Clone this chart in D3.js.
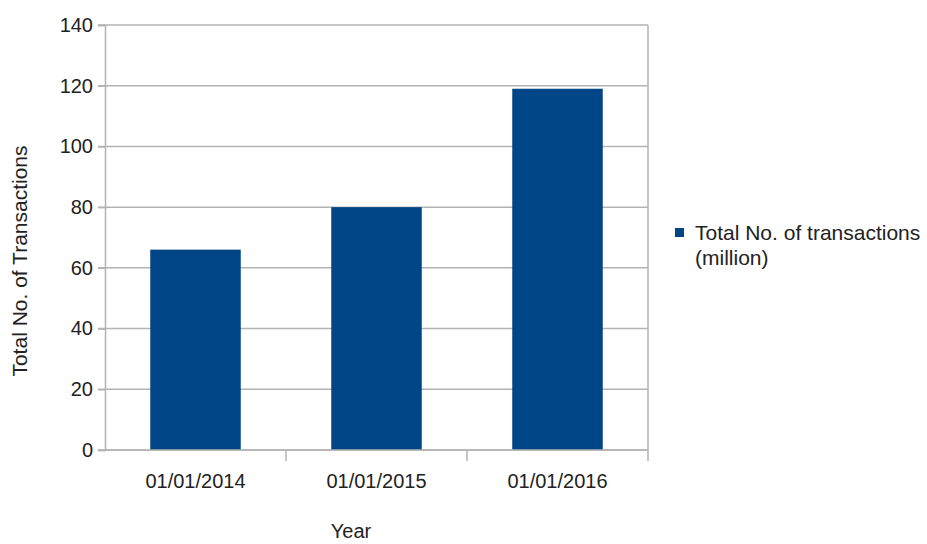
<!DOCTYPE html>
<html>
<head>
<meta charset="utf-8">
<script src="https://cdn.jsdelivr.net/npm/d3@7"></script>
<style>
  body { margin: 0; background: #fff; }
  text { font-family: "Liberation Sans", Arial, sans-serif; fill: #222; }
</style>
</head>
<body>
<div id="chart"></div>
<script>
// data
const categories = ['01/01/2014', '01/01/2015', '01/01/2016'];
const values = [66, 80, 119];
const yTicks = [0, 20, 40, 60, 80, 100, 120, 140];
const seriesName = ['Total No. of transactions', '(million)'];

let margin = { top: 25, left: 105, right: 279, bottom: 94 },
  width = 927 - margin.left - margin.right,
  height = 544 - margin.top - margin.bottom;

let svg = d3
  .select('#chart')
  .append('svg')
  .attr('width', 927)
  .attr('height', 544);

let g = svg.append('g').attr('transform', 'translate(' + margin.left + ',' + margin.top + ')');

let xScale = d3.scaleBand().domain(categories).range([0, width]).paddingInner(0.5).paddingOuter(0.25),
  yScale = d3.scaleLinear().domain([0, 140]).range([height, 0]);

let bandScale = d3.scaleBand().domain(categories).range([0, width]);

// gridlines
g.selectAll('.grid')
  .data(yTicks)
  .enter()
  .append('line')
  .attr('x1', -7)
  .attr('x2', width)
  .attr('y1', d => yScale(d))
  .attr('y2', d => yScale(d))
  .attr('stroke', '#b3b3b3')
  .attr('stroke-width', 1.5);

// plot frame right side
g.append('line')
  .attr('x1', width).attr('x2', width)
  .attr('y1', 0).attr('y2', height)
  .attr('stroke', '#b3b3b3').attr('stroke-width', 1.5);

// bars
g.selectAll('.bar')
  .data(values)
  .enter()
  .append('rect')
  .attr('class', 'bar')
  .attr('x', (d, i) => xScale(categories[i]))
  .attr('y', d => yScale(d))
  .attr('width', xScale.bandwidth())
  .attr('height', d => height - yScale(d))
  .attr('fill', '#004586');

// y axis
let yAxis = g.append('g')
  .call(d3.axisLeft(yScale).tickValues(yTicks).tickSize(7).tickPadding(5));
yAxis.select('.domain').attr('stroke', '#b3b3b3').attr('stroke-width', 1.5);
yAxis.selectAll('.tick line').attr('stroke', '#b3b3b3').attr('stroke-width', 1.5);
yAxis.selectAll('text').style('font-size', '20px').attr('fill', '#222');

// x axis: ticks at band boundaries
let xAxis = g.append('g').attr('transform', 'translate(0,' + height + ')');
xAxis.append('line')
  .attr('x1', 0).attr('x2', width)
  .attr('stroke', '#b3b3b3').attr('stroke-width', 1.5);
xAxis.selectAll('.xt')
  .data(categories)
  .enter()
  .append('line')
  .attr('x1', d => bandScale(d) + bandScale.bandwidth())
  .attr('x2', d => bandScale(d) + bandScale.bandwidth())
  .attr('y1', 0).attr('y2', 11)
  .attr('stroke', '#b3b3b3').attr('stroke-width', 1.5);
xAxis.selectAll('.xl')
  .data(categories)
  .enter()
  .append('text')
  .attr('x', d => xScale(d) + xScale.bandwidth() / 2)
  .attr('y', 38)
  .attr('text-anchor', 'middle')
  .style('font-size', '20px')
  .text(d => d);

// axis titles
svg.append('text')
  .attr('x', 351)
  .attr('y', 538)
  .attr('text-anchor', 'middle')
  .style('font-size', '20px')
  .text('Year');

svg.append('text')
  .attr('transform', 'translate(27,261) rotate(-90)')
  .attr('text-anchor', 'middle')
  .style('font-size', '21px')
  .text('Total No. of Transactions');

// legend
let legend = svg.append('g').attr('transform', 'translate(675,228)');
legend.append('rect').attr('width', 9).attr('height', 9).attr('fill', '#004586');
legend.selectAll('text')
  .data(seriesName)
  .enter()
  .append('text')
  .attr('x', 20)
  .attr('y', (d, i) => 12 + i * 25)
  .style('font-size', '21px')
  .text(d => d);
</script>
</body>
</html>
